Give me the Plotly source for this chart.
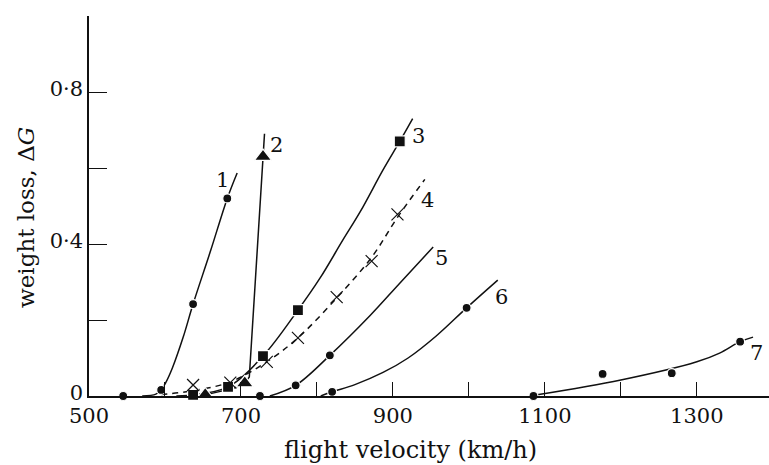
import plotly.graph_objects as go

# ---- data ----
c1_mx = [545, 595, 637, 682]
c1_my = [0.0, 0.016, 0.242, 0.52]
c1_lx = [570, 588, 595, 601, 610, 624, 637, 660, 682, 695]
c1_ly = [0.0, 0.005, 0.016, 0.035, 0.075, 0.155, 0.242, 0.382, 0.52, 0.587]

c2_mx = [653, 705, 729]
c2_my = [0.003, 0.034, 0.63]
c2_lx = [615, 653, 690, 705, 711, 729, 731]
c2_ly = [0.0, 0.003, 0.02, 0.034, 0.05, 0.63, 0.69]

c3_mx = [637, 683, 729, 775, 909]
c3_my = [0.003, 0.024, 0.105, 0.226, 0.67]
c3_lx = [637, 683, 729, 775, 804, 834, 857, 887, 909, 926]
c3_ly = [0.003, 0.024, 0.105, 0.226, 0.31, 0.41, 0.485, 0.595, 0.67, 0.73]

c4_mx = [637, 686, 734, 775, 826, 872, 906]
c4_my = [0.029, 0.035, 0.09, 0.153, 0.26, 0.355, 0.478]
c4_lx = [595, 637, 686, 734, 775, 826, 872, 906, 942]
c4_ly = [0.004, 0.014, 0.037, 0.09, 0.153, 0.258, 0.365, 0.47, 0.57]

c5_mx = [725, 772, 817]
c5_my = [0.0, 0.028, 0.107]
c5_lx = [738, 772, 817, 870, 909, 953]
c5_ly = [0.0, 0.028, 0.107, 0.212, 0.297, 0.392]

c6_mx = [820, 997]
c6_my = [0.011, 0.232]
c6_lx = [805, 820, 850, 887, 920, 957, 997, 1038]
c6_ly = [0.0, 0.011, 0.03, 0.062, 0.1, 0.158, 0.232, 0.305]

c7_mx = [1085, 1176, 1267, 1357]
c7_my = [0.0, 0.058, 0.06, 0.143]
c7_lx = [1090, 1200, 1300, 1330, 1357, 1374]
c7_ly = [0.003, 0.042, 0.09, 0.113, 0.143, 0.155]

labels = ["1", "2", "3", "4", "5", "6", "7"]
label_x = [676, 747, 934, 946, 964, 1043, 1378]
label_y = [0.568, 0.66, 0.684, 0.516, 0.363, 0.26, 0.113]

x_tickvals = [500, 600, 700, 800, 900, 1000, 1100, 1200, 1300]
x_ticktext = ["500", "", "700", "", "900", "", "1100", "", "1300"]
y_tickvals = [0, 0.2, 0.4, 0.6, 0.8, 1.0]
y_ticktext = ["0", "", "0·4", "", "0·8", ""]

INK = "#111111"
FONT = "DejaVu Serif"

fig = go.Figure()

lines = [
    (c1_lx, c1_ly, "solid", "spline"),
    (c2_lx, c2_ly, "solid", "linear"),
    (c3_lx, c3_ly, "solid", "spline"),
    (c4_lx, c4_ly, "6px,5px", "spline"),
    (c5_lx, c5_ly, "solid", "spline"),
    (c6_lx, c6_ly, "solid", "spline"),
    (c7_lx, c7_ly, "solid", "spline"),
]
for lx, ly, dash, shape in lines:
    fig.add_trace(go.Scatter(x=lx, y=ly, mode="lines", cliponaxis=False,
                             line=dict(color=INK, width=1.5, dash=dash, shape=shape,
                                       smoothing=1.0),
                             showlegend=False, hoverinfo="skip"))

markers = [
    (c1_mx, c1_my, "circle", 9),
    (c2_mx, c2_my, "triangle-up", 15),
    (c3_mx, c3_my, "square", 11),
    (c5_mx, c5_my, "circle", 9),
    (c6_mx, c6_my, "circle", 9),
    (c7_mx, c7_my, "circle", 9),
]
for mx, my, sym, sz in markers:
    fig.add_trace(go.Scatter(x=mx, y=my, mode="markers", cliponaxis=False,
                             marker=dict(symbol=sym, size=sz, color=INK,
                                         line=dict(color="white", width=1.2)),
                             showlegend=False))
fig.add_trace(go.Scatter(x=c4_mx, y=c4_my, mode="markers", cliponaxis=False,
                         marker=dict(symbol="x-thin-open", size=12, color=INK,
                                     line=dict(color=INK, width=1.2)),
                         showlegend=False))

for t, lx, ly in zip(labels, label_x, label_y):
    fig.add_annotation(x=lx, y=ly, text=t, showarrow=False,
                       font=dict(family=FONT, size=21, color=INK))

fig.add_annotation(xref="paper", yref="paper", x=(410 - 89) / 680, y=-(450 - 396) / 380,
                   text="flight velocity (km/h)", showarrow=False,
                   font=dict(family=FONT, size=24, color=INK),
                   xanchor="center", yanchor="middle")
fig.add_annotation(xref="paper", yref="paper", x=-(89 - 26) / 680, y=(396 - 218) / 380,
                   text="weight loss, Δ<i>G</i>", showarrow=False, textangle=-90,
                   font=dict(family=FONT, size=23, color=INK),
                   xanchor="center", yanchor="middle")

fig.update_layout(
    width=769, height=465,
    margin=dict(l=89, r=0, t=16, b=69),
    paper_bgcolor="white", plot_bgcolor="white",
    font=dict(family=FONT, size=21, color=INK),
    xaxis=dict(range=[500, 1395], tickvals=x_tickvals, ticktext=x_ticktext,
               ticks="inside", ticklen=14, tickwidth=1, tickcolor=INK,
               showline=True, linecolor=INK, linewidth=1.5,
               showgrid=False, zeroline=False,
               tickfont=dict(family=FONT, size=21, color=INK)),
    yaxis=dict(range=[0, 1.0], tickvals=y_tickvals, ticktext=y_ticktext,
               ticks="inside", ticklen=18, tickwidth=1, tickcolor=INK,
               showline=True, linecolor=INK, linewidth=1.5,
               showgrid=False, zeroline=False, ticklabelshift=-3,
               tickfont=dict(family=FONT, size=21, color=INK)),
)

fig.write_html("out.html")
